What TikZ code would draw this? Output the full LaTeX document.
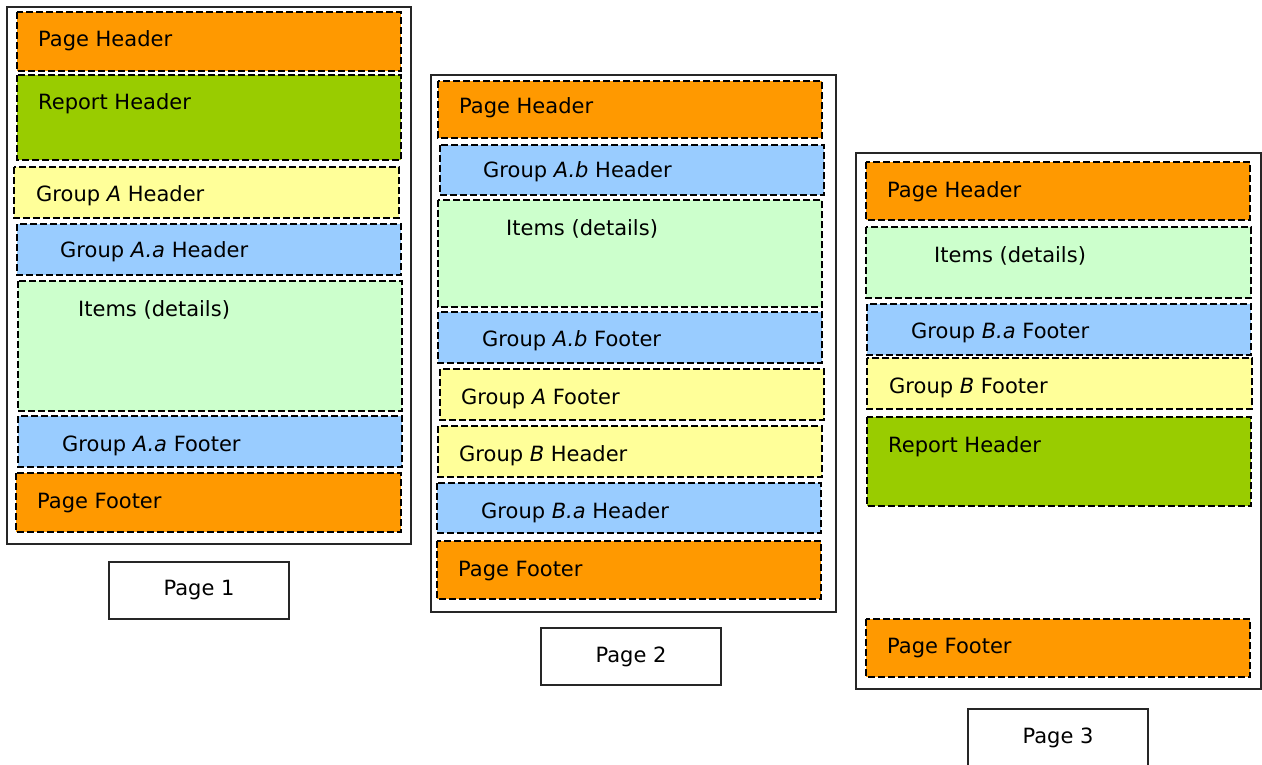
\documentclass[tikz,border=0pt]{standalone}
\usepackage{fontspec}
\setmainfont{DejaVu Sans}
\definecolor{orng}{HTML}{FF9900}
\definecolor{grn}{HTML}{99CC00}
\definecolor{ylw}{HTML}{FFFF99}
\definecolor{blu}{HTML}{99CCFF}
\definecolor{ltg}{HTML}{CCFFCC}
\tikzset{
  band/.style={draw=black, line width=2.1pt, dash pattern=on 7pt off 3pt},
  frame/.style={draw=black!85, line width=2pt},
  lbl/.style={anchor=base west, inner sep=0pt, font=\fontsize{21}{25}\selectfont},
  pagecap/.style={draw=black!85, line width=1.6pt, minimum width=180pt, minimum height=57pt, inner sep=0pt, font=\fontsize{21}{25}\selectfont}
}
\begin{document}
\begin{tikzpicture}[x=1pt,y=-1pt]
\useasboundingbox (0,0) rectangle (1262,765);
% ---------- Page 1 ----------
\draw[frame] (7,7) rectangle (411,544);
\fill[orng] (17,12) rectangle (401,71); \draw[band] (17,12) rectangle (401,71);
\fill[grn] (17,75) rectangle (401,160); \draw[band] (17,75) rectangle (401,160);
\fill[ylw] (14,167) rectangle (399,218); \draw[band] (14,167) rectangle (399,218);
\fill[blu] (17,224) rectangle (401,275); \draw[band] (17,224) rectangle (401,275);
\fill[ltg] (18,281) rectangle (402,411); \draw[band] (18,281) rectangle (402,411);
\fill[blu] (18,416) rectangle (402,467); \draw[band] (18,416) rectangle (402,467);
\fill[orng] (16,473) rectangle (401,532); \draw[band] (16,473) rectangle (401,532);
\node[lbl] (p1ph) at (38,47) {Page Header};
\node[lbl] (p1rh) at (38,110) {Report Header};
\node[lbl] (p1gah) at (36,202) {Group \textit{A} Header};
\node[lbl] (p1gaah) at (60,258) {Group \textit{A.a} Header};
\node[lbl] (p1it) at (78,316) {Items (details)};
\node[lbl] (p1gaaf) at (62,451) {Group \textit{A.a} Footer};
\node[lbl] (p1pf) at (37,508) {Page Footer};
\node[pagecap] (cap1) at (199,590.5) {Page 1};
% ---------- Page 2 ----------
\draw[frame] (431,75) rectangle (836,612);
\fill[orng] (438,81) rectangle (822,138); \draw[band] (438,81) rectangle (822,138);
\fill[blu] (440,145) rectangle (824,195); \draw[band] (440,145) rectangle (824,195);
\fill[ltg] (438,200) rectangle (822,307); \draw[band] (438,200) rectangle (822,307);
\fill[blu] (438,312) rectangle (822,363); \draw[band] (438,312) rectangle (822,363);
\fill[ylw] (440,369) rectangle (824,420); \draw[band] (440,369) rectangle (824,420);
\fill[ylw] (438,426) rectangle (822,477); \draw[band] (438,426) rectangle (822,477);
\fill[blu] (437,483) rectangle (821,533); \draw[band] (437,483) rectangle (821,533);
\fill[orng] (437,541) rectangle (821,599); \draw[band] (437,541) rectangle (821,599);
\node[lbl] (p2ph) at (459,114) {Page Header};
\node[lbl] (p2gabh) at (483,178) {Group \textit{A.b} Header};
\node[lbl] (p2it) at (506,235) {Items (details)};
\node[lbl] (p2gabf) at (482,346) {Group \textit{A.b} Footer};
\node[lbl] (p2gaf) at (461,404) {Group \textit{A} Footer};
\node[lbl] (p2gbh) at (459,461) {Group \textit{B} Header};
\node[lbl] (p2gbah) at (481,518) {Group \textit{B.a} Header};
\node[lbl] (p2pf) at (458,576) {Page Footer};
\node[pagecap] (cap2) at (631,656.5) {Page 2};
% ---------- Page 3 ----------
\draw[frame] (856,153) rectangle (1261,689);
\fill[orng] (866,162) rectangle (1250,220); \draw[band] (866,162) rectangle (1250,220);
\fill[ltg] (866,227) rectangle (1251,298); \draw[band] (866,227) rectangle (1251,298);
\fill[blu] (867,304) rectangle (1251,355); \draw[band] (867,304) rectangle (1251,355);
\fill[ylw] (867,358) rectangle (1252,409); \draw[band] (867,358) rectangle (1252,409);
\fill[grn] (867,417) rectangle (1251,506); \draw[band] (867,417) rectangle (1251,506);
\fill[orng] (866,619) rectangle (1250,677); \draw[band] (866,619) rectangle (1250,677);
\node[lbl] (p3ph) at (887,197) {Page Header};
\node[lbl] (p3it) at (934,262) {Items (details)};
\node[lbl] (p3gbaf) at (911,338) {Group \textit{B.a} Footer};
\node[lbl] (p3gbf) at (889,393) {Group \textit{B} Footer};
\node[lbl] (p3rh) at (888,452) {Report Header};
\node[lbl] (p3pf) at (887,653) {Page Footer};
\node[pagecap] (cap3) at (1058,737.5) {Page 3};
\end{tikzpicture}
\end{document}
